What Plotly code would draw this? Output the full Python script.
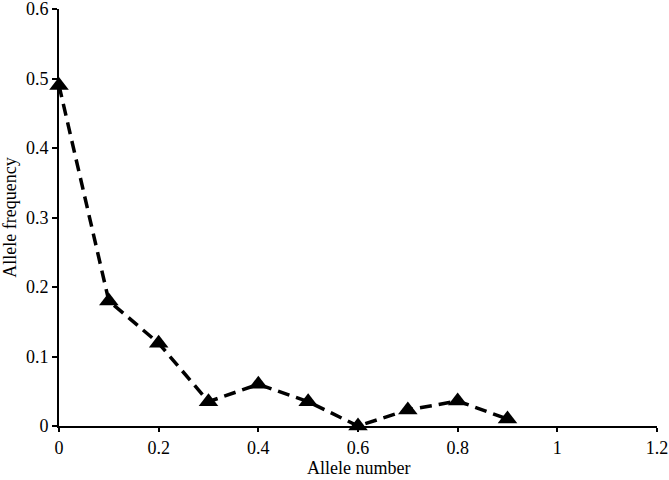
import plotly.graph_objects as go

allele_number = [0, 0.1, 0.2, 0.3, 0.4, 0.5, 0.6, 0.7, 0.8, 0.9]
allele_freq = [0.49, 0.18, 0.119, 0.035, 0.06, 0.035, 0.0, 0.023, 0.036, 0.01]

x_ticks = [0, 0.2, 0.4, 0.6, 0.8, 1.0, 1.2]
x_tick_labels = ["0", "0.2", "0.4", "0.6", "0.8", "1", "1.2"]
y_ticks = [0, 0.1, 0.2, 0.3, 0.4, 0.5, 0.6]
y_tick_labels = ["0", "0.1", "0.2", "0.3", "0.4", "0.5", "0.6"]

fig = go.Figure()
fig.add_trace(go.Scatter(
    x=allele_number, y=allele_freq, mode="lines+markers",
    line=dict(color="black", width=3.5, dash="12px,7px"),
    marker=dict(symbol="triangle-up", size=17, color="black"),
    cliponaxis=False, showlegend=False,
))

font = dict(family="Liberation Serif, Times New Roman, serif", size=18, color="black")
fig.update_layout(
    width=669, height=480,
    margin=dict(l=59, r=12, t=9, b=54),
    paper_bgcolor="white", plot_bgcolor="white",
    font=font,
    xaxis=dict(range=[0, 1.2], tickvals=x_ticks, ticktext=x_tick_labels,
               showgrid=False, zeroline=False, showline=True, linecolor="black",
               linewidth=2, ticks="outside", ticklen=4, tickwidth=2, tickcolor="black",
               ticklabeloverflow="allow", automargin=False),
    yaxis=dict(range=[0, 0.6], tickvals=y_ticks, ticktext=y_tick_labels,
               showgrid=False, zeroline=False, showline=True, linecolor="black",
               linewidth=2, ticks="outside", ticklen=5, tickwidth=2, tickcolor="black",
               ticklabeloverflow="allow", automargin="left",
               title=dict(text="Allele frequency", font=dict(size=18), standoff=5)),
    annotations=[dict(text="Allele number", xref="paper", yref="paper", x=0.5, y=0,
                      xanchor="center", yanchor="middle", yshift=-42, showarrow=False,
                      font=dict(size=18))],
)
fig.write_html("out.html")
